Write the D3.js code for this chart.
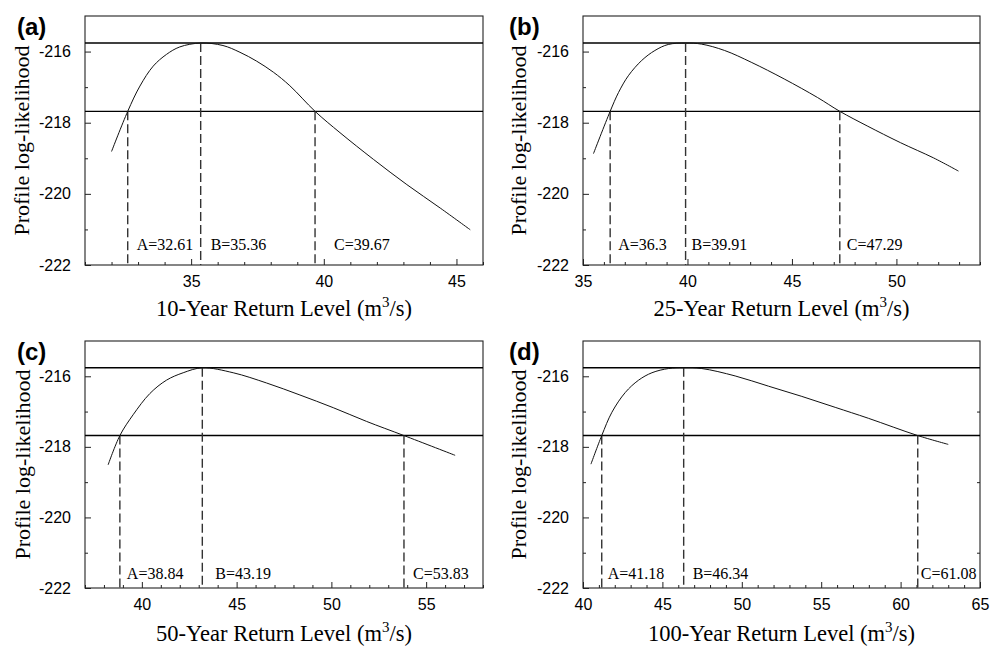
<!DOCTYPE html>
<html>
<head>
<meta charset="utf-8">
<title>Profile log-likelihood of return levels</title>
<script src="https://d3js.org/d3.v7.min.js"></script>
<style>
  body { margin: 0; background: #fff; }
  .tick text { font-family: "Liberation Sans", Arial, sans-serif; font-size: 16px; fill: #000; }
  .serif { font-family: "Liberation Serif", "Times New Roman", serif; }
</style>
</head>
<body>
<svg id="chart" width="1000" height="648"></svg>
<script>
// panel data
const panelTags = ["(a)", "(b)", "(c)", "(d)"];
const returnPeriods = ["10-Year", "25-Year", "50-Year", "100-Year"];
const xDomains = [[31, 46], [35, 54], [37, 58], [40, 65]];
const xMajorTicks = [[35, 40, 45], [35, 40, 45, 50], [40, 45, 50, 55], [40, 45, 50, 55, 60, 65]];
const yDomain = [-222, -215];
const yMajorTicks = [-222, -220, -218, -216];
const yMinorTicks = [-221, -219, -217];
const maxLogLik = -215.76;
const ciLogLik = -217.68;

// A (lower bound), B (estimate), C (upper bound) for each return period
const bounds10 = [32.61, 35.36, 39.67];
const bounds25 = [36.3, 39.91, 47.29];
const bounds50 = [38.84, 43.19, 53.83];
const bounds100 = [41.18, 46.34, 61.08];
const boundText10 = ["32.61", "35.36", "39.67"];
const boundText25 = ["36.3", "39.91", "47.29"];
const boundText50 = ["38.84", "43.19", "53.83"];
const boundText100 = ["41.18", "46.34", "61.08"];

// profile curves [return level, log-likelihood]
const profile10 = [
  [32.0, -218.81], [32.61, -217.68], [33.07, -216.97], [33.57, -216.41], [34.07, -216.08],
  [34.57, -215.87], [35.36, -215.76], [36.2, -215.83], [36.84, -216.02], [37.47, -216.27],
  [38.1, -216.58], [38.72, -216.96], [39.67, -217.68], [40.61, -218.28], [41.87, -219.03],
  [43.13, -219.74], [44.39, -220.4], [45.52, -221.01]
];
const profile25 = [
  [35.5, -218.87], [36.3, -217.68], [36.7, -217.15], [37.17, -216.68], [37.81, -216.25],
  [38.44, -215.97], [39.08, -215.8], [39.91, -215.76], [40.67, -215.79], [41.78, -215.97],
  [43.05, -216.3], [44.63, -216.77], [46.22, -217.29], [47.29, -217.68], [48.6, -218.09],
  [50.19, -218.56], [51.78, -218.99], [52.97, -219.36]
];
const profile50 = [
  [38.22, -218.51], [38.84, -217.68], [39.54, -217.09], [40.42, -216.49], [41.3, -216.11],
  [42.18, -215.9], [43.19, -215.76], [44.82, -215.9], [46.58, -216.19], [48.34, -216.53],
  [50.1, -216.89], [51.86, -217.28], [53.83, -217.68], [56.53, -218.24]
];
const profile100 = [
  [40.5, -218.49], [41.18, -217.68], [41.82, -217.02], [42.66, -216.46], [43.5, -216.11],
  [44.34, -215.9], [45.39, -215.78], [46.34, -215.76], [47.48, -215.78], [49.58, -215.99],
  [51.68, -216.28], [53.78, -216.57], [55.88, -216.88], [57.97, -217.19], [61.08, -217.68],
  [63.0, -217.93]
];

const profiles = [profile10, profile25, profile50, profile100];
const boundsAll = [bounds10, bounds25, bounds50, bounds100];
const boundTexts = [boundText10, boundText25, boundText50, boundText100];
const boundNames = ["A", "B", "C"];

// layout
const frames = [
  { left: 85, right: 483, top: 16, bottom: 265, tagX: 17, tagY: 35, titleY: 316, ylabX: 29, annDy: 15, annDx: [9, 10, 19] },
  { left: 583, right: 980, top: 16, bottom: 265, tagX: 509, tagY: 35, titleY: 316, ylabX: 526, annDy: 15, annDx: [8, 6, 7] },
  { left: 85, right: 483, top: 341, bottom: 588, tagX: 17, tagY: 360, titleY: 641, ylabX: 30, annDy: 9, annDx: [7, 13, 9] },
  { left: 583, right: 980, top: 341, bottom: 588, tagX: 509, tagY: 360, titleY: 641, ylabX: 526, annDy: 9, annDx: [6, 9, 3], rightTicks: true }
];

const svg = d3.select("#chart");
const fmt = d => String(d);

frames.forEach((f, i) => {
  const x = d3.scaleLinear().domain(xDomains[i]).range([f.left, f.right]);
  const y = d3.scaleLinear().domain(yDomain).range([f.bottom, f.top]);
  const g = svg.append("g");

  // minor ticks every 1 unit on x
  const xMinor = d3.range(Math.ceil(xDomains[i][0]), xDomains[i][1] + 0.001, 1)
    .filter(v => !xMajorTicks[i].includes(v));

  g.append("g")
    .attr("transform", `translate(0,${f.bottom})`)
    .call(d3.axisBottom(x).tickValues(xMinor).tickSize(-3).tickFormat(""))
    .call(a => a.select(".domain").remove())
    .selectAll("line").attr("stroke", "#222");

  g.append("g")
    .attr("transform", `translate(0,${f.bottom})`)
    .call(d3.axisBottom(x).tickValues(xMajorTicks[i]).tickSizeInner(-6).tickSizeOuter(0).tickPadding(11).tickFormat(fmt))
    .call(a => a.select(".domain").remove())
    .selectAll("line").attr("stroke", "#222");

  g.append("g")
    .attr("transform", `translate(${f.left},0)`)
    .call(d3.axisLeft(y).tickValues(yMinorTicks).tickSize(-3).tickFormat(""))
    .call(a => a.select(".domain").remove())
    .selectAll("line").attr("stroke", "#222");

  g.append("g")
    .attr("transform", `translate(${f.left},0)`)
    .call(d3.axisLeft(y).tickValues(yMajorTicks).tickSizeInner(-6).tickSizeOuter(0).tickPadding(14).tickFormat(fmt))
    .call(a => a.select(".domain").remove())
    .selectAll("line").attr("stroke", "#222");

  if (f.rightTicks) {
    g.append("g")
      .attr("transform", `translate(${f.right},0)`)
      .call(d3.axisRight(y).tickValues(yMinorTicks).tickSize(-3).tickFormat(""))
      .call(a => a.select(".domain").remove())
      .selectAll("line").attr("stroke", "#222");
  }

  // frame
  g.append("rect")
    .attr("x", f.left).attr("y", f.top)
    .attr("width", f.right - f.left).attr("height", f.bottom - f.top)
    .attr("fill", "none").attr("stroke", "#222").attr("stroke-width", 1.1);

  // horizontal reference lines
  [maxLogLik, ciLogLik].forEach(v => {
    g.append("line")
      .attr("x1", f.left).attr("x2", f.right)
      .attr("y1", y(v)).attr("y2", y(v))
      .attr("stroke", "#000").attr("stroke-width", 1.4);
  });

  // dashed drop lines
  boundsAll[i].forEach((b, k) => {
    g.append("line")
      .attr("x1", x(b)).attr("x2", x(b))
      .attr("y1", y(k === 1 ? maxLogLik : ciLogLik)).attr("y2", f.bottom)
      .attr("stroke", "#333").attr("stroke-width", 1.4)
      .attr("stroke-dasharray", "9,4");

    g.append("text")
      .attr("class", "serif")
      .attr("x", x(b) + f.annDx[k])
      .attr("y", f.bottom - f.annDy)
      .attr("font-size", 16)
      .text(`${boundNames[k]}=${boundTexts[i][k]}`);
  });

  // profile curve
  const line = d3.line().x(d => x(d[0])).y(d => y(d[1])).curve(d3.curveCatmullRom.alpha(0.5));
  g.append("path")
    .datum(profiles[i])
    .attr("d", line)
    .attr("fill", "none")
    .attr("stroke", "#111")
    .attr("stroke-width", 1);

  // panel tag
  g.append("text")
    .attr("x", f.tagX).attr("y", f.tagY)
    .attr("font-family", "Liberation Sans, Arial, sans-serif")
    .attr("font-weight", "bold")
    .attr("font-size", 24)
    .text(panelTags[i]);

  // x title
  const xt = g.append("text")
    .attr("class", "serif")
    .attr("x", (f.left + f.right) / 2).attr("y", f.titleY)
    .attr("text-anchor", "middle")
    .attr("font-size", 22.5);
  xt.append("tspan").text(`${returnPeriods[i]} Return Level (m`);
  xt.append("tspan").attr("dy", -9).attr("font-size", 15).text("3");
  xt.append("tspan").attr("dy", 9).text("/s)");

  // y title
  g.append("text")
    .attr("class", "serif")
    .attr("transform", `translate(${f.ylabX},${(f.top + f.bottom) / 2}) rotate(-90)`)
    .attr("text-anchor", "middle")
    .attr("font-size", 22)
    .text("Profile log-likelihood");
});
</script>
</body>
</html>
